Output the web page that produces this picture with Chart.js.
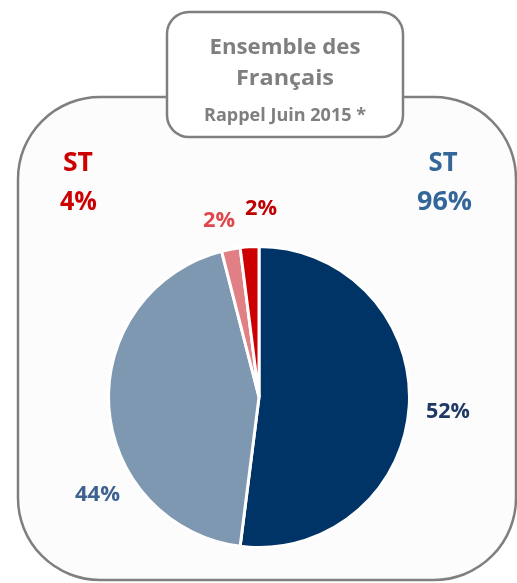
<!DOCTYPE html>
<html><head><meta charset="utf-8">
<script src="https://cdn.jsdelivr.net/npm/chart.js@4.4.0/dist/chart.umd.min.js"></script>
<style>html,body{margin:0;padding:0;background:#fff;}#wrap{width:517px;height:583px;position:relative;}</style>
</head><body><div id="wrap"><canvas id="c" width="517" height="583"></canvas></div>
<script>
const categories = ["Très satisfait", "Assez satisfait", "Peu satisfait", "Pas du tout satisfait"];
const values = [52, 44, 2, 2];
const sliceColors = ["#003366", "#7F98B2", "#E07F84", "#CC0000"];
const valueLabels = ["52%", "44%", "2%", "2%"];
const groupLabels = [["ST", "96%"], ["ST", "4%"]];
const titleLines = ["Ensemble des", "Français", "Rappel Juin 2015 *"];

function roundRect(ctx, x, y, w, h, r) {
  ctx.beginPath();
  ctx.moveTo(x + r, y);
  ctx.arcTo(x + w, y, x + w, y + h, r);
  ctx.arcTo(x + w, y + h, x, y + h, r);
  ctx.arcTo(x, y + h, x, y, r);
  ctx.arcTo(x, y, x + w, y, r);
  ctx.closePath();
}

function fitText(ctx, txt, x, y, w) {
  ctx.save();
  const m = ctx.measureText(txt).width;
  ctx.translate(x, y + 2);
  ctx.scale(w / m, 1);
  ctx.fillText(txt, 0, 0);
  ctx.restore();
}

const decor = {
  id: 'decor',
  beforeDraw(chart) {
    const ctx = chart.ctx;
    ctx.save();
    roundRect(ctx, 18, 97, 498, 483, 82);
    ctx.fillStyle = '#FCFCFC';
    ctx.fill();
    ctx.lineWidth = 2.5;
    ctx.strokeStyle = '#7F7F7F';
    ctx.stroke();
    roundRect(ctx, 167, 12, 236, 125, 22);
    ctx.fillStyle = '#FFFFFF';
    ctx.fill();
    ctx.stroke();
    ctx.restore();
  },
  afterDraw(chart) {
    const ctx = chart.ctx;
    ctx.save();
    ctx.textAlign = 'center';
    ctx.textBaseline = 'middle';
    const F = '"Open Sans", "Noto Sans", sans-serif';
    ctx.fillStyle = '#7F7F7F';
    ctx.font = 'bold 22px ' + F;
    fitText(ctx, titleLines[0], 285, 46, 151);
    fitText(ctx, titleLines[1], 285, 77, 98);
    ctx.font = 'bold 17px ' + F;
    fitText(ctx, titleLines[2], 285, 114, 162);

    ctx.font = 'bold 26px ' + F;
    ctx.fillStyle = '#336699';
    fitText(ctx, groupLabels[0][0], 443, 162, 29);
    fitText(ctx, groupLabels[0][1], 444.5, 201, 55);
    ctx.fillStyle = '#CC0000';
    fitText(ctx, groupLabels[1][0], 78, 162, 30);
    fitText(ctx, groupLabels[1][1], 78.5, 201, 37);

    ctx.font = 'bold 22px ' + F;
    ctx.fillStyle = '#1F3864';
    fitText(ctx, valueLabels[0], 448, 410, 44);
    ctx.fillStyle = '#3E6391';
    fitText(ctx, valueLabels[1], 97.5, 493, 45);
    ctx.font = 'bold 21px ' + F;
    ctx.fillStyle = '#E0474C';
    fitText(ctx, valueLabels[2], 219, 219, 32);
    ctx.fillStyle = '#C00000';
    fitText(ctx, valueLabels[3], 261, 207, 32);
    ctx.restore();
  }
};

new Chart(document.getElementById('c'), {
  type: 'pie',
  data: {
    labels: categories,
    datasets: [{
      data: values,
      backgroundColor: sliceColors,
      borderColor: '#FFFFFF',
      borderWidth: 3
    }]
  },
  options: {
    responsive: false,
    animation: false,
    layout: { padding: { left: 107, right: 106, top: 245, bottom: 34 } },
    plugins: { legend: { display: false }, tooltip: { enabled: false } }
  },
  plugins: [decor]
});
</script>
</body></html>
